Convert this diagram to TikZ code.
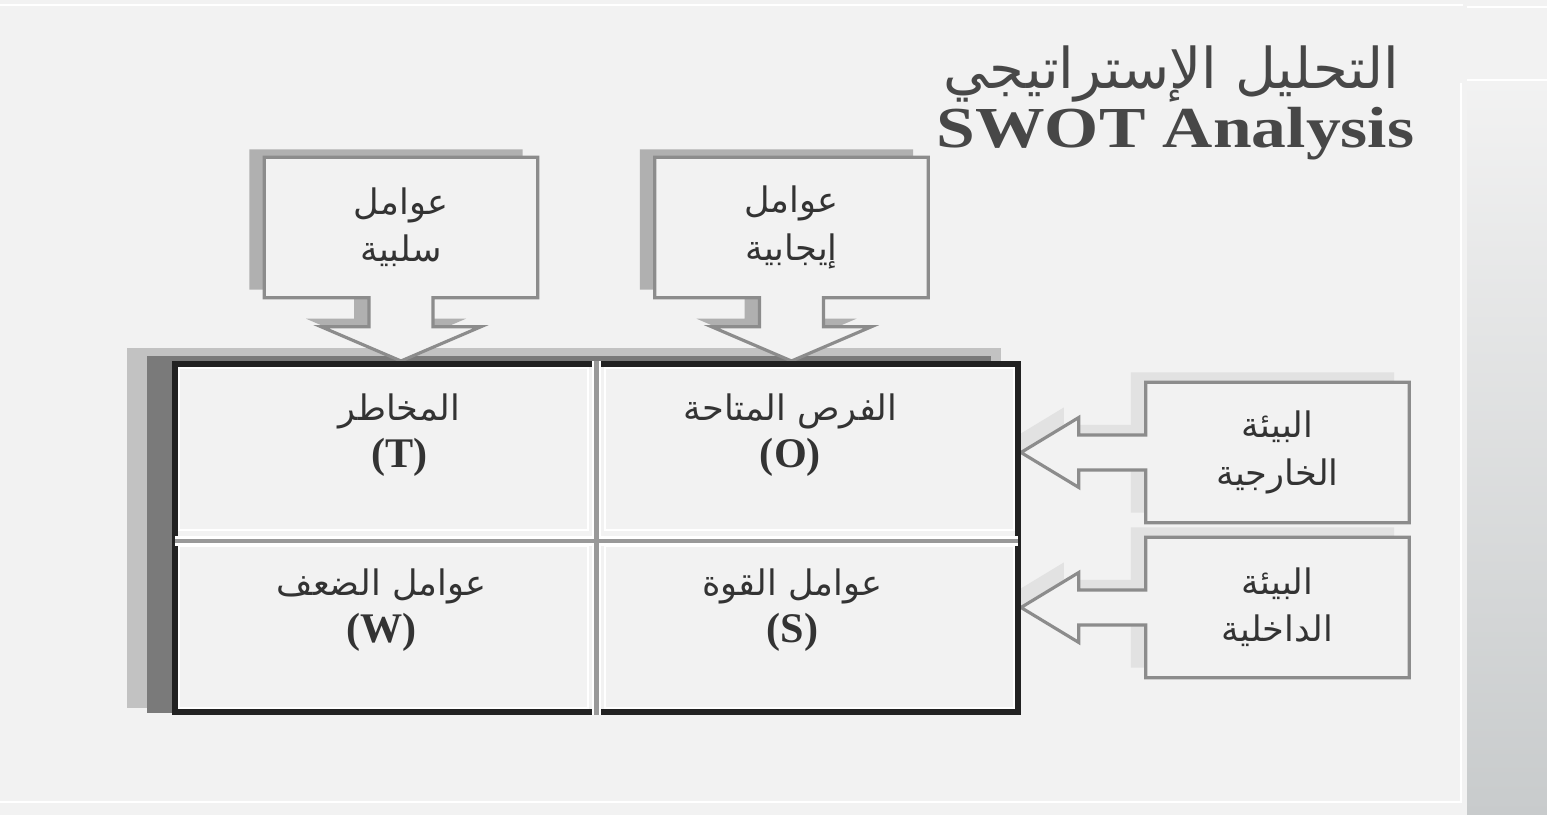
\documentclass[tikz,border=0pt]{standalone}
\usepackage{fontspec}
\setmainfont{Liberation Serif}
\newfontfamily\arabicfont[Script=Arabic]{DejaVu Sans}
\TeXXeTstate=1
\usetikzlibrary{positioning,shadows}

\definecolor{bg}{HTML}{F2F2F2}
\definecolor{ink}{HTML}{333333}
\definecolor{titleink}{HTML}{474747}
\definecolor{boxline}{HTML}{8C8C8C}
\definecolor{gridline}{HTML}{222222}
\definecolor{midline}{HTML}{999999}
\definecolor{shdark}{HTML}{7A7A7A}
\definecolor{shlight}{HTML}{C2C2C2}
\definecolor{shbox}{HTML}{B0B0B0}
\definecolor{shfaint}{HTML}{E2E2E2}
\definecolor{stripe}{HTML}{C8CBCC}

\newcommand\artxt[1]{{\arabicfont\beginR #1\endR}}
\newcommand\swotl[1]{{\rmfamily\bfseries\fontsize{12}{14}\selectfont #1}}

\pgfdeclarelayer{back}
\pgfsetlayers{back,main}

\tikzset{
  ar/.style={text=ink, align=center, font=\arabicfont\fontsize{10}{13.5}\selectfont},
  cell/.style={draw=white, line width=0.6pt, minimum width=4.09cm, minimum height=1.62cm, inner sep=0pt},
  callbox/.style={ar, minimum width=2.72cm, minimum height=1.39cm, inner sep=0pt},
  sidebox/.style={ar, minimum width=2.62cm, minimum height=1.39cm, inner sep=0pt},
  callout/.style={draw=boxline, line width=0.9pt, fill=bg, line join=miter},
}

\begin{document}
\begin{tikzpicture}
    \useasboundingbox (0,0) rectangle (15.47,8.15);

    % grid
    \node[draw=gridline, fill=bg, line width=1.7pt, minimum width=8.43cm, minimum height=3.48cm, inner sep=0pt] (swot) at (5.965,2.77) {};
    \node[cell, anchor=north west] (cT) at ([shift={(0.06,-0.06)}]swot.north west) {};
    \node[cell, anchor=north east] (cO) at ([shift={(-0.06,-0.06)}]swot.north east) {};
    \node[cell, anchor=south west] (cW) at ([shift={(0.06,0.06)}]swot.south west) {};
    \node[cell, anchor=south east] (cS) at ([shift={(-0.06,0.06)}]swot.south east) {};
    \draw[white, line width=2.6pt, shorten <=0.9pt, shorten >=0.9pt] (swot.north) -- (swot.south) ([yshift=-0.03cm]swot.west) -- ([yshift=-0.03cm]swot.east);
    \draw[midline, line width=1.3pt, shorten <=0.9pt, shorten >=0.9pt] (swot.north) -- (swot.south) ([yshift=-0.03cm]swot.west) -- ([yshift=-0.03cm]swot.east);

    \node[ar] (T) at ([shift={(0.16,0.14)}]cT.center) {\artxt{المخاطر}\\ \swotl{(T)}};
    \node[ar] (O) at ([shift={(-0.19,0.14)}]cO.center) {\artxt{الفرص المتاحة}\\ \swotl{(O)}};
    \node[ar] (W) at ([shift={(-0.02,0.17)}]cW.center) {\artxt{عوامل الضعف}\\ \swotl{(W)}};
    \node[ar] (S) at ([shift={(-0.17,0.17)}]cS.center) {\artxt{عوامل القوة}\\ \swotl{(S)}};

    % callouts
    \node[callbox] (neg) at (4.01,5.875) {\artxt{عوامل}\\ \artxt{سلبية}};
    \node[callbox] (pos) at (7.915,5.875) {\artxt{عوامل}\\ \artxt{إيجابية}};
    \node[sidebox] (ext) at (12.775,3.625) {\artxt{البيئة}\\ \artxt{الخارجية}};
    \node[sidebox] (int) at (12.775,2.075) {\artxt{البيئة}\\ \artxt{الداخلية}};

    % title
    \node[font=\bfseries\fontsize{16.5}{20}\selectfont, text=titleink, anchor=base east, inner sep=0pt] (swottitle) at (14.15,6.67) {\scalebox{1.2}[1]{SWOT Analysis}};
    \node[font=\arabicfont\fontsize{16}{19}\selectfont, text=titleink, anchor=base east, inner sep=0pt] (artitle) at (14.0,7.26) {\artxt{التحليل الإستراتيجي}};

    \begin{pgfonlayer}{back}
    \fill[bg] (0,0) rectangle (15.47,8.15);
    \shade[top color=bg, bottom color=stripe] (14.67,0) rectangle (15.47,7.34);
    \draw[white, line width=0.6pt] (0,8.1) -- (14.63,8.1) (14.67,8.08) -- (15.47,8.08)
        (14.67,7.35) -- (15.47,7.35) (14.61,7.32) -- (14.61,0.13) -- (0,0.13);

    % shadow of the grid
    \fill[shlight] ([shift={(-0.45,0.13)}]swot.north west) rectangle ([shift={(-0.2,0.07)}]swot.south east);
    \fill[shdark] ([shift={(-0.25,0.05)}]swot.north west) rectangle ([shift={(-0.3,0.02)}]swot.south east);

    \foreach \b in {neg,pos}
      \draw[callout, drop shadow={shadow xshift=-1.5mm, shadow yshift=0.8mm, fill=shbox, opacity=1}]
        (\b.north west) -- (\b.north east) -- (\b.south east)
        -- ([xshift=3.2mm]\b.south) -- ([shift={(3.2mm,-2.9mm)}]\b.south)
        -- ([shift={(8mm,-2.9mm)}]\b.south) -- (\b.south |- swot.north)
        -- ([shift={(-8mm,-2.9mm)}]\b.south) -- ([shift={(-3.2mm,-2.9mm)}]\b.south)
        -- ([xshift=-3.2mm]\b.south) -- (\b.south west) -- cycle;
    \foreach \b in {ext,int}
      \draw[callout, drop shadow={shadow xshift=-1.5mm, shadow yshift=1mm, fill=shfaint, opacity=1}]
        (\b.north east) -- (\b.north west) -- ([yshift=1.75mm]\b.west)
        -- ([shift={(-6.7mm,1.75mm)}]\b.west) -- ([shift={(-6.7mm,3.5mm)}]\b.west)
        -- (\b.west -| swot.east)
        -- ([shift={(-6.7mm,-3.5mm)}]\b.west) -- ([shift={(-6.7mm,-1.75mm)}]\b.west)
        -- ([yshift=-1.75mm]\b.west) -- (\b.south west) -- (\b.south east) -- cycle;
    \end{pgfonlayer}
\end{tikzpicture}
\end{document}
